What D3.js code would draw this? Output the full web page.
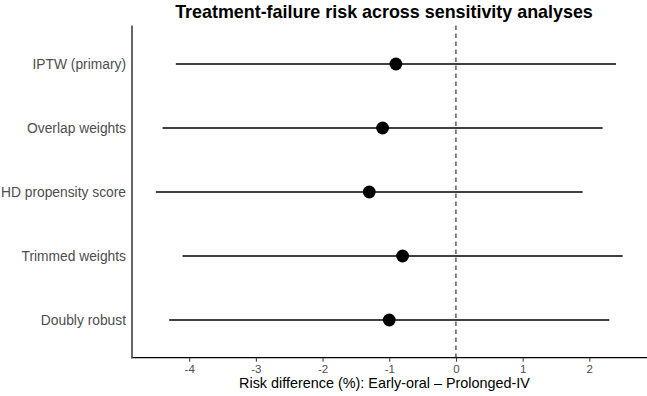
<!DOCTYPE html>
<html>
<head>
<meta charset="utf-8">
<script src="https://cdn.jsdelivr.net/npm/d3@7"></script>
<style>
  html, body { margin: 0; padding: 0; background: #fff; }
  svg { display: block; font-family: "Liberation Sans", Arial, Helvetica, sans-serif; }
</style>
</head>
<body>
<svg id="chart" width="647" height="396"></svg>
<script>
const analyses = ["IPTW (primary)", "Overlap weights", "HD propensity score", "Trimmed weights", "Doubly robust"];
const estimates = [-0.9, -1.1, -1.3, -0.8, -1.0];
const lowerCI = [-4.2, -4.4, -4.5, -4.1, -4.3];
const upperCI = [2.4, 2.2, 1.9, 2.5, 2.3];
const xTicks = [-4, -3, -2, -1, 0, 1, 2];
const titleText = "Treatment-failure risk across sensitivity analyses";
const xLabel = "Risk difference (%): Early-oral \u2013 Prolonged-IV";

const data = analyses.map((a, i) => ({ name: a, est: estimates[i], lo: lowerCI[i], hi: upperCI[i] }));

const svg = d3.select("#chart");
const pLeft = 132.5, pRight = 646, pTop = 25.6, pBottom = 358.4;

const lo = d3.min(lowerCI), hi = d3.max(upperCI);
const pad = (hi - lo) * 0.05;
const x = d3.scaleLinear().domain([lo - pad, hi + pad]).range([pLeft, pRight]);

const y = d3.scalePoint().domain(analyses).range([pTop, pBottom]).padding(0.6);

// reference line at 0
svg.append("line")
  .attr("x1", x(0)).attr("x2", x(0))
  .attr("y1", pTop).attr("y2", pBottom)
  .attr("stroke", "#333").attr("stroke-width", 1.2)
  .attr("stroke-dasharray", "4.5,3.5");

// CI lines
svg.append("g").selectAll("line").data(data).join("line")
  .attr("x1", d => x(d.lo)).attr("x2", d => x(d.hi))
  .attr("y1", d => y(d.name)).attr("y2", d => y(d.name))
  .attr("stroke", "#404040").attr("stroke-width", 1.9);

// points
svg.append("g").selectAll("circle").data(data).join("circle")
  .attr("cx", d => x(d.est)).attr("cy", d => y(d.name))
  .attr("r", 6.4).attr("fill", "#000");

// x axis
const xAxis = svg.append("g")
  .attr("transform", `translate(0,${pBottom - 0.7})`)
  .call(d3.axisBottom(x).tickValues(xTicks).tickSize(4).tickPadding(3).tickFormat(d3.format("d")));
xAxis.select(".domain").attr("stroke", "#000").attr("stroke-width", 1.2).attr("d", `M${pLeft},0H${647}`);
xAxis.selectAll(".tick line").attr("stroke", "#333");
xAxis.selectAll(".tick text").attr("fill", "#4D4D4D").attr("font-size", 11.5)
  .text(d => d < 0 ? "-" + Math.abs(d) : d);

// y axis
const yAxis = svg.append("g")
  .attr("transform", `translate(${pLeft - 0.5},0)`)
  .call(d3.axisLeft(y).tickSize(0).tickPadding(6));
yAxis.select(".domain").attr("stroke", "#000").attr("stroke-width", 1.2).attr("d", `M0,${pTop}V${pBottom}`);
yAxis.selectAll(".tick text").attr("fill", "#4D4D4D").attr("font-size", 13.8);

// title
svg.append("text")
  .attr("x", 384).attr("y", 18)
  .attr("text-anchor", "middle")
  .attr("font-size", 17.9).attr("font-weight", "bold").attr("fill", "#000")
  .text(titleText);

// x label
svg.append("text")
  .attr("x", 384.5).attr("y", 388)
  .attr("text-anchor", "middle")
  .attr("font-size", 14.4).attr("fill", "#000")
  .text(xLabel);
</script>
</body>
</html>
